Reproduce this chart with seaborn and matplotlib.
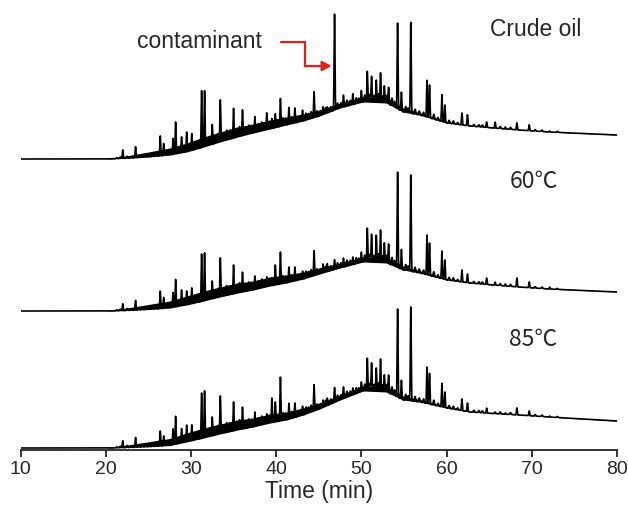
import numpy as np
import pandas as pd
import matplotlib
matplotlib.use("Agg")
import matplotlib.pyplot as plt
import seaborn as sns

# ---- samples -------------------------------------------------------------
sample_names = ["Crude oil", "60℃", "85℃"]
trace_offsets = [290.5, 138.5, 1.5]          # vertical stacking of the traces

# ---- unresolved hump (baseline) under each chromatogram ------------------
hump_time = [10, 20, 22, 25, 27.5, 29.5, 31.5, 33.4, 35.5, 37.3, 39.3, 41.2, 43.2,
             45.1, 47.5, 50.2, 52.9, 54.9, 56.8, 60, 62.7, 65.5, 68.5, 72, 76, 80]
hump_crude = [0, 0, 0.5, 2, 4, 7, 12, 17, 22, 26, 30, 34, 38,
              43, 51, 57, 56, 47, 44, 36, 33, 31, 29, 27, 25.5, 24]
hump_60 = [0, 0, 0.3, 1.5, 3, 6, 10, 14, 18, 21, 25, 28, 32,
           37, 43, 49, 48, 41, 38, 31, 28, 26, 24, 22, 20.5, 19]
hump_85 = [0, 0, 0.3, 1.2, 2.5, 6, 10, 14, 18, 21, 25, 28, 33,
           39, 48, 57, 56, 48, 46, 40, 36, 34.5, 33, 31, 29, 27]
band_width = [0, 0, 2, 5, 7, 9, 10, 10, 10, 9, 9, 8, 7,
              6, 5, 5, 6, 4, 2.5, 1.5, 1, 0.8, 0.5, 0.4, 0.3, 0.3]

# ---- resolved peaks: retention time (min) and height above the hump -------
peak_time = [22.0, 23.5, 26.4, 26.8, 27.9, 28.2, 28.9, 29.5, 30.1, 31.25, 31.6, 32.5,
             33.45, 35.0, 36.05, 37.5, 38.9, 39.5, 39.9, 40.5, 41.5, 42.2, 43.1, 44.45,
             45.5, 46.0, 46.85, 47.9, 49.0, 50.0, 50.7, 51.2, 51.75, 52.25, 52.7, 53.2,
             54.25, 54.7, 55.8, 57.7, 58.0, 59.45, 59.8, 61.8, 62.45, 64.7, 65.7, 66.9,
             68.25, 69.7, 72.1]
peak_crude = [8.5, 11, 20, 12, 16, 32, 16, 20, 17, 57, 56, 20,
              42, 30, 26, 16, 17, 10, 14, 28, 17, 15, 11, 26,
              8, 6, 96, 12, 11, 12, 31, 26, 22.5, 30, 17, 17,
              86, 19, 91, 37, 33, 27, 17.5, 12, 11, 5.5, 6, 2,
              7, 6, 1]
peak_60 = [7, 9.7, 17.5, 11, 15, 27.6, 16, 14, 16, 47.5, 48, 18,
           39, 29, 20, 13.6, 10, 8, 20, 32, 15.4, 14, 8, 25,
           9, 8, 10, 9, 7.6, 10.4, 34, 28, 27.4, 32.7, 20, 20,
           95.7, 20, 96.4, 40, 32.6, 27.8, 19.6, 12, 8.7, 6.4, 3, 2,
           8.8, 5.7, 2]
peak_85 = [7, 9.8, 15, 10, 16, 28, 14.5, 17, 16, 45.5, 47, 19,
           38, 29, 22, 14.6, 10, 24.7, 20, 44, 16, 14.5, 9, 26.4,
           7.5, 7.5, 15, 11.7, 7, 9.7, 33, 28.4, 23.6, 32.8, 17, 18,
           88.4, 19, 94, 36.7, 31, 23.6, 15.6, 11.7, 8.6, 5, 1.6, 1.2,
           7, 4.7, 1]

# ---- small unresolved components riding on the hump ----------------------
minor_time = [21.3, 21.7, 22.5, 23.0, 23.9, 24.3, 24.7, 25.1, 25.5, 25.9, 27.1, 27.5,
              28.6, 29.2, 29.8, 30.5, 30.8, 31.9, 32.2, 32.9, 33.2, 33.8, 34.2, 34.6,
              35.4, 35.7, 36.4, 36.8, 37.1, 37.9, 38.3, 38.6, 39.2, 40.1, 40.8, 41.1,
              41.8, 42.6, 42.9, 43.5, 43.8, 44.1, 44.8, 45.2, 45.8, 46.4, 47.2, 47.6,
              48.3, 48.7, 49.4, 49.7, 50.4, 51.0, 51.5, 52.0, 52.5, 53.0, 53.6, 53.9,
              55.2, 55.5, 56.3, 56.8, 57.3, 58.5, 59.0, 60.3, 60.8, 61.3, 63.2, 63.8,
              64.2, 66.3, 67.5, 70.4, 71.2, 73.0]
minor_height = [1, 1.5, 2, 1.5, 2, 2, 2.5, 3, 2.5, 3, 4, 4,
                5, 6, 5, 6, 7, 8, 6, 8, 9, 8, 10, 9,
                9, 10, 8, 9, 8, 8, 9, 7, 8, 7, 8, 7,
                7, 6, 6, 7, 6, 7, 6, 5, 6, 5, 6, 5,
                6, 5, 6, 5, 7, 8, 7, 9, 7, 8, 8, 6,
                6, 5, 5, 4, 4, 5, 3, 3, 3, 2, 2, 2,
                2, 2, 2, 1.5, 1.5, 1]

x_ticks = [10, 20, 30, 40, 50, 60, 70, 80]
contaminant_time = 46.85

# ---- build the detector signal on a fine time grid -----------------------
time = np.round(np.arange(10, 80.0001, 0.01), 2)


def build_trace(hump, peaks):
    base = np.interp(time, hump_time, hump)
    signal = base.copy()
    for pt, ph in zip(peak_time, peaks):
        signal += ph * np.exp(-0.5 * ((time - pt) / 0.05) ** 2)
    for mt, mh in zip(minor_time, minor_height):
        signal += mh * np.exp(-0.5 * ((time - mt) / 0.07) ** 2)
    return base, signal


humps = [hump_crude, hump_60, hump_85]
peaks = [peak_crude, peak_60, peak_85]
band = np.interp(time, hump_time, band_width)

frames = []
bases = []
for name, off, h, p in zip(sample_names, trace_offsets, humps, peaks):
    base, sig = build_trace(h, p)
    bases.append(base + off)
    frames.append(pd.DataFrame({"time": time, "signal": sig + off, "sample": name}))
df = pd.concat(frames, ignore_index=True)

# ---- figure --------------------------------------------------------------
sns.set_style("ticks")
plt.rcParams["font.family"] = ["Liberation Sans", "DejaVu Sans"]

fig = plt.figure(figsize=(6.28, 5.09), dpi=100)
ax = fig.add_axes([20.5 / 628, 59.5 / 509, (617 - 20.5) / 628, 449.5 / 509])

for base in bases:
    ax.fill_between(time, base, base + band, color="black", linewidth=0)

sns.lineplot(data=df, x="time", y="signal", units="sample", estimator=None,
             sort=False, color="black", linewidth=1.2, legend=False, ax=ax)

ax.set_xlim(10, 80)
ax.set_ylim(0, 449.5)
ax.set_xticks(x_ticks)
ax.set_yticks([])
ax.set_ylabel("")
ax.set_xlabel("Time (min)", fontsize=16.5, labelpad=2)
ax.tick_params(axis="x", direction="out", length=5, width=1.3, labelsize=14, pad=3)
for side in ["left", "top", "right"]:
    ax.spines[side].set_visible(False)
ax.spines["bottom"].set_linewidth(1.3)

# sample labels
ax.text(70.5, 419.5, sample_names[0], fontsize=16.5, ha="center", va="center")
for name, y in zip(sample_names[1:], [268.5, 109.5]):
    ax.text(70.2, y, name, fontsize=16.5, ha="center", va="center",
            family=["Noto Sans CJK SC", "DejaVu Sans"])

# contaminant marker
red = "#e0201b"
ax.text(31.0, 407.5, "contaminant", fontsize=16.5, ha="center", va="center")
ax.plot([40.6, 43.4, 43.4], [407.5, 407.5, 383.5], color=red, linewidth=1.6,
        solid_joinstyle="miter")
ax.annotate("", xy=(contaminant_time - 0.35, 383.5), xytext=(43.35, 383.5),
            arrowprops=dict(arrowstyle="-|>,head_length=0.55,head_width=0.3",
                            color=red, linewidth=1.6, shrinkA=0, shrinkB=0))

fig.savefig("out.png", dpi=100)
